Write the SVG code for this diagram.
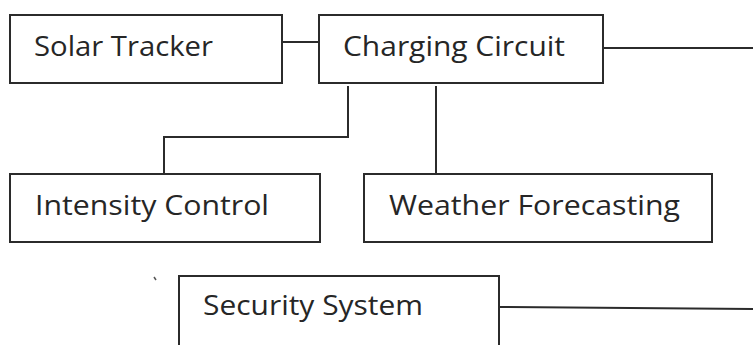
<svg xmlns="http://www.w3.org/2000/svg" width="753" height="345" viewBox="0 0 753 345">
<style>
.box{fill:#fff;stroke:#2b2b2b;stroke-width:2}
.lbl{font-family:"Open Sans","DejaVu Sans",sans-serif;font-size:27px;fill:#262626}
.con{fill:none;stroke:#2b2b2b;stroke-width:2}
</style>
<rect width="753" height="345" fill="#fff"/>
<g id="connectors">
<path class="con" d="M282,42 H319"/>
<path class="con" d="M603,48 H753"/>
<path class="con" d="M348,86 V137 H164 V174"/>
<path class="con" d="M436,86 V174"/>
<path class="con" d="M499,307 L753,309"/>
</g>
<g id="solar-tracker">
<rect class="box" x="10" y="15" width="272" height="68"/>
<text class="lbl" x="34" y="56" textLength="179" lengthAdjust="spacingAndGlyphs">Solar Tracker</text>
</g>
<g id="charging-circuit">
<rect class="box" x="319" y="15" width="284" height="68"/>
<text class="lbl" x="343" y="56" textLength="222" lengthAdjust="spacingAndGlyphs">Charging Circuit</text>
</g>
<g id="intensity-control">
<rect class="box" x="10" y="174" width="310" height="68"/>
<text class="lbl" x="35" y="215" textLength="234" lengthAdjust="spacingAndGlyphs">Intensity Control</text>
</g>
<g id="weather-forecasting">
<rect class="box" x="364" y="174" width="348" height="68"/>
<text class="lbl" x="389" y="215" textLength="291" lengthAdjust="spacingAndGlyphs">Weather Forecasting</text>
</g>
<g id="security-system">
<rect class="box" x="179" y="276" width="320" height="90"/>
<text class="lbl" x="203" y="315" textLength="220" lengthAdjust="spacingAndGlyphs">Security System</text>
</g>
<path d="M154,277 L156,280" stroke="#555" stroke-width="1.5"/>
</svg>
